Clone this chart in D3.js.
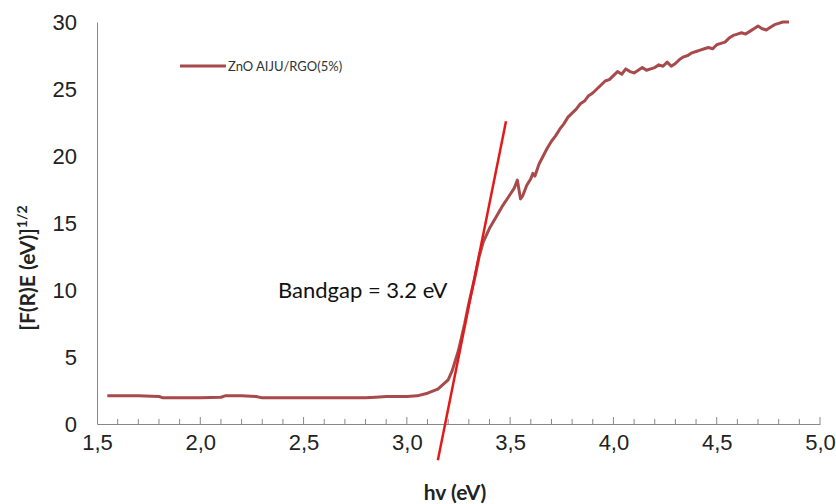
<!DOCTYPE html>
<html>
<head>
<meta charset="utf-8">
<script src="https://cdn.jsdelivr.net/npm/d3@7"></script>
<style>
  body { margin: 0; background: #fff; }
  svg { font-family: Lato, "Open Sans", sans-serif; }
</style>
</head>
<body>
<div id="chart"></div>
<script>
// photon energy (eV) and Tauc value [F(R)E]^1/2
const hv = [1.55, 1.6, 1.7, 1.8, 1.82, 1.9, 2.0, 2.1, 2.12, 2.2, 2.27, 2.3, 2.4, 2.5, 2.6, 2.7, 2.8, 2.85, 2.9, 3.0, 3.05, 3.1, 3.15, 3.2, 3.22, 3.25, 3.28, 3.3, 3.33, 3.35, 3.37, 3.4, 3.43, 3.46, 3.49, 3.52, 3.535, 3.55, 3.56, 3.58, 3.6, 3.61, 3.62, 3.64, 3.66, 3.68, 3.7, 3.72, 3.74, 3.76, 3.78, 3.8, 3.82, 3.84, 3.86, 3.88, 3.9, 3.92, 3.94, 3.96, 3.98, 4.0, 4.02, 4.04, 4.06, 4.08, 4.1, 4.12, 4.14, 4.16, 4.18, 4.2, 4.22, 4.24, 4.26, 4.28, 4.3, 4.32, 4.34, 4.36, 4.38, 4.4, 4.42, 4.44, 4.46, 4.48, 4.5, 4.52, 4.54, 4.56, 4.58, 4.6, 4.62, 4.64, 4.66, 4.68, 4.7, 4.72, 4.74, 4.76, 4.78, 4.8, 4.82, 4.85];
const tauc = [2.1, 2.1, 2.1, 2.05, 1.95, 1.95, 1.95, 2.0, 2.1, 2.1, 2.05, 1.95, 1.95, 1.95, 1.95, 1.95, 1.95, 2.0, 2.05, 2.05, 2.1, 2.3, 2.6, 3.3, 4.0, 5.5, 7.5, 9.0, 11.0, 12.5, 13.6, 14.6, 15.4, 16.2, 16.9, 17.6, 18.2, 16.8, 17.0, 17.8, 18.3, 18.7, 18.5, 19.4, 20.0, 20.6, 21.1, 21.5, 22.0, 22.4, 22.9, 23.2, 23.5, 23.9, 24.1, 24.5, 24.7, 25.0, 25.3, 25.6, 25.7, 26.0, 26.3, 26.1, 26.5, 26.3, 26.2, 26.4, 26.6, 26.4, 26.5, 26.6, 26.8, 26.7, 27.0, 26.7, 26.9, 27.2, 27.4, 27.5, 27.7, 27.8, 27.9, 28.0, 28.1, 28.0, 28.3, 28.4, 28.5, 28.8, 29.0, 29.1, 29.2, 29.1, 29.3, 29.5, 29.7, 29.5, 29.4, 29.6, 29.8, 29.9, 30.0, 30.0];

// tangent used for the band gap estimate
const tangentX = [3.15, 3.48];
const tangentY = [-2.7, 22.6];

const xTicks = [1.5, 2.0, 2.5, 3.0, 3.5, 4.0, 4.5, 5.0];
const yTicks = [0, 5, 10, 15, 20, 25, 30];
const seriesName = "ZnO AIJU/RGO(5%)";

const width = 836, height = 504;
const margin = {top: 22, right: 16, bottom: 80, left: 97};

const svg = d3.select("#chart")
    .append("svg")
    .attr("width", width)
    .attr("height", height);

const xScale = d3.scaleLinear()
    .domain([1.5, 5.0])
    .range([margin.left, width - margin.right]);

const yScale = d3.scaleLinear()
    .domain([0, 30])
    .range([height - margin.bottom, margin.top]);

const fmt = d3.format(".1f");

// y axis: line and labels only
const yAxis = svg.append("g")
    .attr("transform", `translate(${margin.left},0)`)
    .call(d3.axisLeft(yScale).tickValues(yTicks).tickSize(0).tickPadding(20));
yAxis.select(".domain").attr("stroke", "#888");
yAxis.selectAll("text").attr("font-size", "22px").attr("fill", "#222");

// x axis: minor ticks every 0.1 pointing up
const xAxis = svg.append("g")
    .attr("transform", `translate(0,${yScale(0)})`)
    .call(d3.axisBottom(xScale).tickValues(xTicks).tickSize(0).tickPadding(10)
        .tickFormat(d => fmt(d).replace(".", ",")));
xAxis.select(".domain").attr("stroke", "#888");
xAxis.selectAll("text").attr("font-size", "22px").attr("fill", "#222");

svg.append("g")
    .selectAll("line")
    .data(d3.range(16, 51).map(d => d / 10))
    .join("line")
    .attr("x1", d => xScale(d))
    .attr("x2", d => xScale(d))
    .attr("y1", yScale(0))
    .attr("y2", d => yScale(0) - (Math.abs(d * 2 - Math.round(d * 2)) < 1e-6 ? 7 : 5))
    .attr("stroke", "#888");

// data line
const pts = hv.map((d, i) => [d, tauc[i]]);
svg.append("path")
    .datum(pts)
    .attr("fill", "none")
    .attr("stroke", "#a84a4c")
    .attr("stroke-width", 3)
    .attr("stroke-linejoin", "round")
    .attr("d", d3.line().x(d => xScale(d[0])).y(d => yScale(d[1])));

// tangent
svg.append("line")
    .attr("x1", xScale(tangentX[0]))
    .attr("y1", yScale(tangentY[0]))
    .attr("x2", xScale(tangentX[1]))
    .attr("y2", yScale(tangentY[1]))
    .attr("stroke", "#e21a1a")
    .attr("stroke-width", 2.5);

svg.append("text")
    .attr("x", 278)
    .attr("y", 298)
    .attr("font-size", "22px")
    .attr("fill", "#111")
    .text("Bandgap = 3.2 eV");

// legend
svg.append("line")
    .attr("x1", 180).attr("x2", 226)
    .attr("y1", 66).attr("y2", 66)
    .attr("stroke", "#a84a4c")
    .attr("stroke-width", 3);
svg.append("text")
    .attr("x", 228)
    .attr("y", 71)
    .attr("font-size", "13px")
    .attr("fill", "#333")
    .text(seriesName);

// axis titles
svg.append("text")
    .attr("x", 455)
    .attr("y", 500)
    .attr("text-anchor", "middle")
    .attr("font-size", "21px")
    .attr("font-weight", "bold")
    .attr("fill", "#222")
    .text("hv (eV)");

const yTitle = svg.append("text")
    .attr("transform", "translate(35,268) rotate(-90)")
    .attr("text-anchor", "middle")
    .attr("font-size", "21px")
    .attr("font-weight", "bold")
    .attr("fill", "#222");
yTitle.append("tspan").text("[F(R)E (eV)]");
yTitle.append("tspan")
    .attr("dy", -8)
    .attr("font-size", "14px")
    .text("1/2");
</script>
</body>
</html>
